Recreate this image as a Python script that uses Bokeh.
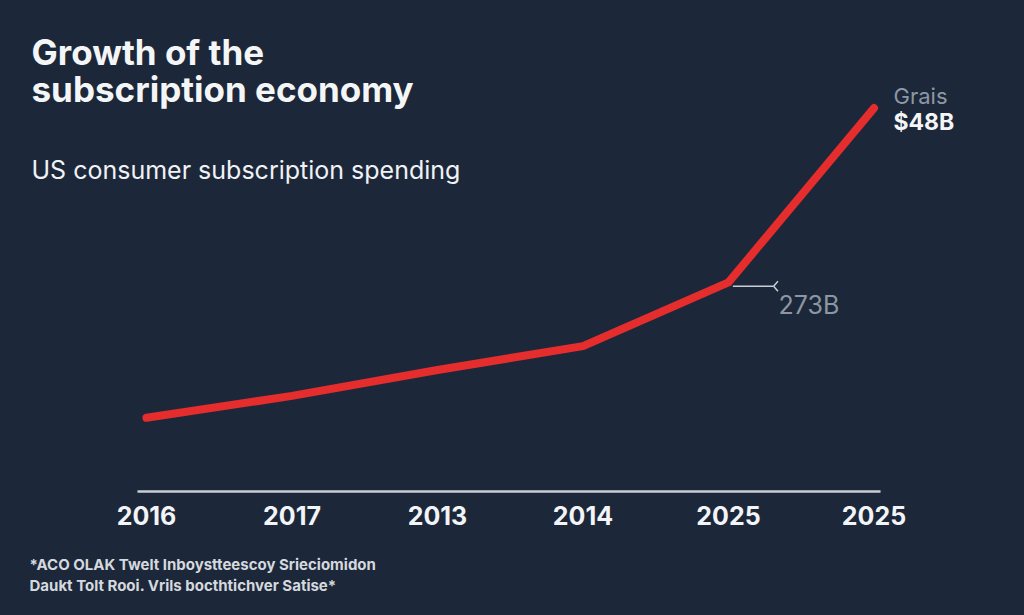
from bokeh.plotting import figure
from bokeh.models import Range1d, Label, FixedTicker, Title
from bokeh.embed import file_html
from bokeh.resources import INLINE

# Data
categories = ["2016", "2017", "2013", "2014", "2025", "2025"]
spending = [137, 159, 185, 209, 273, 448]
x_idx = list(range(len(categories)))
footnotes = ["*ACO OLAK Twelt Inboystteescoy Srieciomidon",
             "Daukt Tolt Rooi. Vrils bocthtichver Satise*"]

BG = "#1c2839"
RED = "#e52d2d"
FONT = "Inter"

p = figure(width=1008, height=599, output_backend="svg", toolbar_location=None,
           x_range=Range1d(-1.0034, 5.9244), y_range=Range1d(60, 556),
           min_border_left=0, min_border_right=0, min_border_top=0, min_border_bottom=103)
p.background_fill_color = None
p.border_fill_color = BG
p.outline_line_color = None
p.grid.visible = False
p.yaxis.visible = False

xa = p.xaxis[0]
xa.ticker = FixedTicker(ticks=x_idx)
xa.major_label_overrides = {i: c for i, c in zip(x_idx, categories)}
xa.axis_line_color = None
xa.major_tick_line_color = None
xa.minor_tick_line_color = None
xa.major_label_text_color = "#f2f4f7"
xa.major_label_text_font = FONT
xa.major_label_text_font_style = "bold"
xa.major_label_text_font_size = "25px"
xa.major_label_standoff = 5

p.add_layout(Title(text="\n" + "\n".join(footnotes), align="left", offset=29, standoff=8,
                   text_font=FONT, text_font_size="15px", text_font_style="bold",
                   text_line_height=1.12, text_color="#d5d9df"), "below")

# baseline
p.segment(x0=[-0.062], y0=[63], x1=[5.045], y1=[63], line_color="#c9ced6", line_width=2.5)

# main line
p.line(x_idx, spending, line_color=RED, line_width=8, line_join="round", line_cap="round")

# leader line for 273B
p.segment(x0=[4.03], y0=[269], x1=[4.31], y1=[269], line_color="#c9ced6", line_width=1.5)
p.segment(x0=[4.31, 4.31], y0=[269, 269], x1=[4.34, 4.34], y1=[274, 264], line_color="#c9ced6", line_width=1.5)

FB = 496  # frame bottom in canvas pixels

def lab(x, yc, t, size, color, style="normal"):
    p.add_layout(Label(x=x, y=FB - yc, x_units="screen", y_units="screen", text=t,
                       text_font=FONT, text_font_size=size, text_color=color,
                       text_font_style=style, text_baseline="alphabetic"))

lab(31, 53, "Growth of the", "35px", "#f4f5f7", "bold")
lab(31, 90, "subscription economy", "35px", "#f4f5f7", "bold")
lab(31, 171, "US consumer subscription spending", "25px", "#f0f2f5")
lab(893, 97, "Grais", "22px", "#8e96a3")
lab(893, 123, "$48B", "23px", "#f4f5f7", "bold")
lab(778, 306, "273B", "25px", "#8e96a3")

html = file_html(p, INLINE)
html = html.replace("<head>", "<head><style>html,body{background:%s;}</style>" % BG, 1)
open("out.html", "w").write(html)
